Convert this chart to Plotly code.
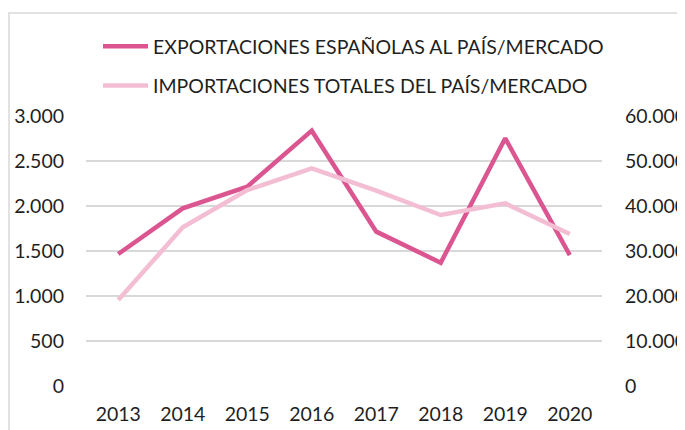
import plotly.graph_objects as go

years = ["2013", "2014", "2015", "2016", "2017", "2018", "2019", "2020"]
exports = [1467, 1974, 2215, 2837, 1715, 1370, 2752, 1455]
imports = [19100, 35260, 43550, 48370, 43410, 38000, 40590, 33780]

left_ticks = [0, 500, 1000, 1500, 2000, 2500, 3000]
left_labels = ["0", "500", "1.000", "1.500", "2.000", "2.500", "3.000"]
right_ticks = [0, 10000, 20000, 30000, 40000, 50000, 60000]
right_labels = ["0", "10.000", "20.000", "30.000", "40.000", "50.000", "60.000"]

name_exp = "EXPORTACIONES ESPAÑOLAS AL PAÍS/MERCADO"
name_imp = "IMPORTACIONES TOTALES DEL PAÍS/MERCADO"

FONT = "Lato"
TXT = "#1F1F1F"
FS = 19.5

fig = go.Figure()
fig.add_trace(go.Scatter(x=years, y=imports, name=name_imp, yaxis="y2",
                         mode="lines", line=dict(color="#F3BED3", width=4.5),
                         legendrank=2, legendgroup="b"))
fig.add_trace(go.Scatter(x=years, y=exports, name=name_exp, yaxis="y",
                         mode="lines", line=dict(color="#DB5690", width=4.5),
                         legendrank=1, legendgroup="a"))

W, H = 685, 430
L, R, T, B = 78, 91, 108, 52
pw, ph = W - L - R, H - T - B

def px(x):
    return (x - L) / pw

def py(y):
    return (H - B - y) / ph

fig.update_layout(
    width=W, height=H,
    margin=dict(l=L, r=R, t=T, b=B, pad=0, autoexpand=False),
    paper_bgcolor="white", plot_bgcolor="white",
    font=dict(family=FONT, size=FS, color=TXT),
    showlegend=True,
    legend=dict(x=px(90), y=py(19), xanchor="left", yanchor="top",
                orientation="v", traceorder="grouped", tracegroupgap=11,
                font=dict(family=FONT, size=FS, color=TXT),
                itemwidth=45, bgcolor="rgba(0,0,0,0)"),
    xaxis=dict(type="category", range=[-0.5, 7.5], showgrid=False,
               showline=False, zeroline=False, ticks="", automargin=False,
               tickfont=dict(family=FONT, size=FS, color=TXT),
               ticklabelstandoff=14),
    yaxis=dict(range=[0, 3000], tickvals=left_ticks, ticktext=left_labels,
               showgrid=True, gridcolor="#D9D9D9", gridwidth=1.5,
               zeroline=False, showline=False, ticks="", automargin=False,
               ticklabelstandoff=21,
               tickfont=dict(family=FONT, size=FS, color=TXT)),
    yaxis2=dict(range=[0, 60000], tickvals=right_ticks, ticktext=right_labels,
                overlaying="y", side="right", showgrid=False,
                zeroline=False, showline=False, ticks="", automargin=False,
                ticklabelstandoff=22,
                tickfont=dict(family=FONT, size=FS, color=TXT)),
    shapes=[
        dict(type="line", xref="paper", yref="paper",
             x0=px(0), x1=px(W), y0=py(5), y1=py(5),
             line=dict(color="#D9D9D9", width=1.5)),
        dict(type="line", xref="paper", yref="paper",
             x0=px(1), x1=px(1), y0=py(5), y1=py(H),
             line=dict(color="#D9D9D9", width=1.5)),
    ],
)

fig.write_html("out.html")
